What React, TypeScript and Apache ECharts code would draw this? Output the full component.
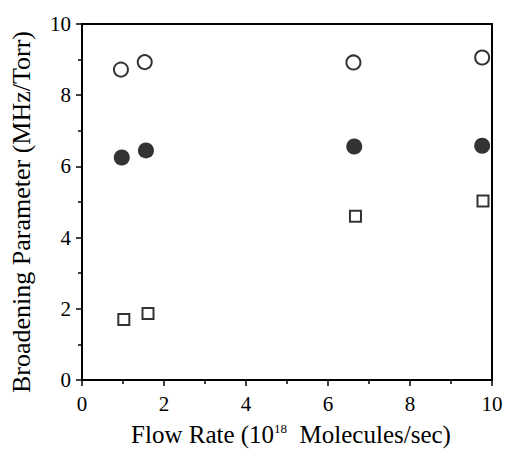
import React, { useEffect, useRef } from "react";
import * as echarts from "echarts";

// Flow rate (10^18 molecules/sec) for each measurement
const openCircleX = [0.95, 1.53, 6.62, 9.76];
const openCircleY = [8.72, 8.93, 8.92, 9.06];

const filledCircleX = [0.97, 1.56, 6.64, 9.76];
const filledCircleY = [6.25, 6.45, 6.56, 6.58];

const squareX = [1.02, 1.61, 6.67, 9.78];
const squareY = [1.7, 1.87, 4.6, 5.03];

const xTicks = [0, 2, 4, 6, 8, 10];
const yTicks = [0, 2, 4, 6, 8, 10];

const FONT = "Liberation Serif";

function pairs(xs: number[], ys: number[]) {
  return xs.map((x, i) => [x, ys[i]]);
}

export default function App() {
  const ref = useRef<HTMLDivElement>(null);

  useEffect(() => {
    if (!ref.current) return;
    const chart = echarts.init(ref.current, null, { renderer: "svg" });
    const axisCommon = {
      axisLine: { show: true, onZero: false, lineStyle: { color: "#000", width: 2 } },
      axisTick: { show: true, inside: false, length: 6, lineStyle: { color: "#000", width: 1.5 } },
      minorTick: { show: true, splitNumber: 2, length: 4, lineStyle: { color: "#000", width: 1.5 } },
      splitLine: { show: false },
    };
    chart.setOption({
      animation: false,
      backgroundColor: "#fff",
      grid: {
        left: 80,
        right: 15,
        top: 24,
        bottom: 68,
        show: true,
        borderColor: "#000",
        borderWidth: 2,
        backgroundColor: "transparent",
      },
      xAxis: {
        type: "value",
        min: xTicks[0],
        max: xTicks[xTicks.length - 1],
        interval: 2,
        ...axisCommon,
        axisLabel: {
          color: "#000",
          fontFamily: FONT,
          fontSize: 21,
          margin: 13,
        },
        name: "Flow Rate (10{sup|18}  Molecules/sec)",
        nameLocation: "middle",
        nameGap: 42,
        nameTextStyle: {
          color: "#000",
          fontFamily: FONT,
          fontSize: 25,
          padding: [0, 0, 0, 8],
          rich: {
            sup: {
              fontFamily: FONT,
              fontSize: 13,
              color: "#000",
              verticalAlign: "top",
              lineHeight: 25,
            },
          },
        },
      },
      yAxis: {
        type: "value",
        min: yTicks[0],
        max: yTicks[yTicks.length - 1],
        interval: 2,
        ...axisCommon,
        axisLabel: {
          color: "#000",
          fontFamily: FONT,
          fontSize: 21,
          margin: 11,
        },
        name: "Broadening Parameter (MHz/Torr)",
        nameLocation: "middle",
        nameGap: 48,
        nameTextStyle: {
          color: "#000",
          fontFamily: FONT,
          fontSize: 26,
          padding: [0, 20, 0, 0],
        },
      },
      series: [
        {
          type: "scatter",
          data: pairs(openCircleX, openCircleY),
          symbol: "circle",
          symbolSize: 14,
          itemStyle: { color: "#fff", borderColor: "#000", borderWidth: 2 },
        },
        {
          type: "scatter",
          data: pairs(filledCircleX, filledCircleY),
          symbol: "circle",
          symbolSize: 16,
          itemStyle: { color: "#000" },
        },
        {
          type: "scatter",
          data: pairs(squareX, squareY),
          symbol: "rect",
          symbolSize: 11,
          itemStyle: { color: "#fff", borderColor: "#000", borderWidth: 2 },
        },
      ],
    });
    return () => chart.dispose();
  }, []);

  return (
    <div
      ref={ref}
      style={{ position: "fixed", left: 0, top: 0, width: 507, height: 452, background: "#fff" }}
    />
  );
}
